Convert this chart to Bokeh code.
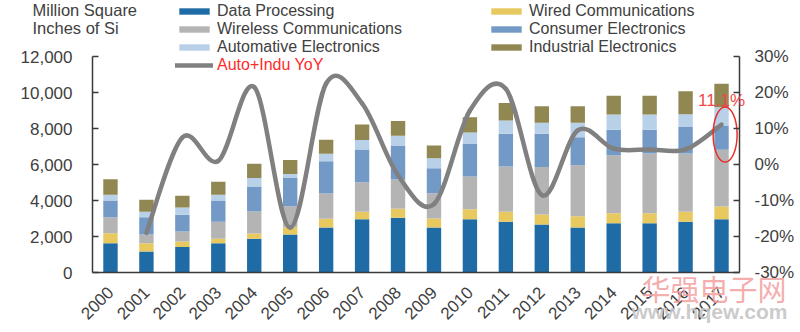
from math import pi
from bokeh.plotting import figure
from bokeh.models import (Range1d, LinearAxis, FixedTicker, NumeralTickFormatter,
                          PrintfTickFormatter, Legend, LegendItem, Label, ColumnDataSource)
from bokeh.embed import file_html
from bokeh.resources import INLINE

# ---------------- data ----------------
years = [str(y) for y in range(2000, 2018)]
data_processing = [1630, 1170, 1410, 1630, 1870, 2110, 2500, 2960, 3040, 2500, 2960, 2820, 2670, 2500, 2740, 2740, 2820, 2960]
wired_comm      = [555, 460, 315, 240, 300, 405, 480, 410, 500, 500, 555, 555, 555, 630, 555, 555, 555, 705]
wireless_comm   = [890, 480, 555, 945, 1220, 1165, 1410, 1650, 1630, 1405, 1815, 2520, 2630, 2835, 3225, 3315, 3240, 3150]
consumer_elec   = [925, 965, 925, 1185, 1390, 1575, 1795, 1815, 1890, 1390, 1815, 1815, 1850, 1555, 1405, 1315, 1465, 1350]
auto_elec       = [315, 295, 405, 315, 465, 220, 410, 520, 535, 555, 630, 740, 610, 795, 850, 850, 705, 1020]
industrial_elec = [870, 665, 650, 720, 795, 780, 775, 870, 815, 705, 850, 965, 925, 925, 1040, 1040, 1280, 1295]

yoy_years = years[1:]
auto_indu_yoy = [-19.0, 7.5, 1.0, 21.5, -17.5, 22.5, 17.0, -3.0, -11.0, 15.0, 21.0, -8.5, 9.5, 4.4, 4.2, 4.2, 11.1]

series_names = ["Data Processing", "Wired Communications", "Wireless Communications",
                "Consumer Electronics", "Automative Electronics", "Industrial Electronics"]
line_name = "Auto+Indu YoY"
left_ticks = [0, 2000, 4000, 6000, 8000, 10000, 12000]
right_ticks = [-30, -20, -10, 0, 10, 20, 30]
y_title = ["Million Square", "Inches of Si"]

# ---------------- layout (pixels) ----------------
W, H = 800, 332
PL, PR, PT, PB = 92, 739, 56, 272          # plotting area edges on the canvas
ncat = len(years)
cw = (PR - PL) / ncat                       # px per category
ys_l = (PB - PT) / (left_ticks[-1] - left_ticks[0])
ys_r = (PB - PT) / (right_ticks[-1] - right_ticks[0])

FONT = "Liberation Sans"
TXT = "#404040"
AXIS = "#3a3a3a"
colors = ["#1f6ba5", "#e8c95f", "#b4b4b4", "#7399c6", "#b9d0e9", "#908752"]
LINE = "#808080"
RED = "#ff2a2a"

x_range = Range1d(-0.5 - PL / cw, ncat - 0.5 + (W - PR) / cw)
y_range = Range1d(left_ticks[0] - (H - PB) / ys_l, left_ticks[-1] + PT / ys_l)
p = figure(width=W, height=H, output_backend="svg", toolbar_location=None, tools="",
           x_range=x_range, y_range=y_range, min_border=0)
p.outline_line_color = None
p.xgrid.visible = False
p.ygrid.visible = False
p.extra_y_ranges = {"yoy": Range1d(right_ticks[0] - (H - PB) / ys_r, right_ticks[-1] + PT / ys_r)}

xs = list(range(ncat))
src = ColumnDataSource(dict(x=xs, dp=data_processing, wired=wired_comm, wireless=wireless_comm,
                            consumer=consumer_elec, auto=auto_elec, ind=industrial_elec))
keys = ["dp", "wired", "wireless", "consumer", "auto", "ind"]
bars = p.vbar_stack(keys, x="x", width=0.4, fill_color=colors, line_color=None, source=src)

# smooth YoY line (Catmull-Rom -> cubic Bezier control points from the data points)
lx = [years.index(y) for y in yoy_years]
ly = auto_indu_yoy
n = len(lx)
seg = dict(x0=[], y0=[], x1=[], y1=[], cx0=[], cy0=[], cx1=[], cy1=[])
for i in range(n - 1):
    a, b = max(i - 1, 0), min(i + 2, n - 1)
    seg["x0"].append(lx[i]); seg["y0"].append(ly[i])
    seg["x1"].append(lx[i + 1]); seg["y1"].append(ly[i + 1])
    seg["cx0"].append(lx[i] + (lx[i + 1] - lx[a]) / 6); seg["cy0"].append(ly[i] + (ly[i + 1] - ly[a]) / 6)
    seg["cx1"].append(lx[i + 1] - (lx[b] - lx[i]) / 6); seg["cy1"].append(ly[i + 1] - (ly[b] - ly[i]) / 6)
line_r = p.bezier(x0="x0", y0="y0", x1="x1", y1="y1", cx0="cx0", cy0="cy0", cx1="cx1", cy1="cy1",
                  source=ColumnDataSource(seg), line_color=LINE, line_width=4.5, line_cap="round",
                  y_range_name="yoy")

# highlight of the last value
p.ellipse(x=[lx[-1] + 0.1], y=[ly[-1] - 2.8], width=24, height=55, width_units="screen",
          height_units="screen", fill_color=None, line_color="#e8302e", line_width=1.5,
          y_range_name="yoy")
p.add_layout(Label(x=lx[-1], y=ly[-1], y_range_name="yoy", text=f"{ly[-1]:.1f}%",
                   text_align="center", text_baseline="middle", y_offset=24,
                   text_font=FONT, text_font_size="17px", text_color="#f04848"))

# axes (pinned to the plotting area)
ax = p.yaxis[0]
ax.ticker = FixedTicker(ticks=left_ticks)
ax.formatter = NumeralTickFormatter(format="0,0")
ax.fixed_location = -0.5
ax.bounds = (left_ticks[0], left_ticks[-1])
ax2 = LinearAxis(y_range_name="yoy", ticker=FixedTicker(ticks=right_ticks),
                 formatter=PrintfTickFormatter(format="%d%%"),
                 fixed_location=ncat - 0.5, bounds=(right_ticks[0], right_ticks[-1]))
p.add_layout(ax2, "right")
for a_, st in ((ax, 20), (ax2, 15)):
    a_.major_tick_in = 6
    a_.major_tick_out = 0
    a_.minor_tick_line_color = None
    a_.major_label_standoff = st
xa = p.xaxis[0]
xa.ticker = FixedTicker(ticks=xs)
xa.major_label_overrides = {i: y for i, y in zip(xs, years)}
xa.major_label_orientation = pi / 4
xa.minor_tick_line_color = None
xa.major_label_standoff = 11
xa.fixed_location = left_ticks[0]
xa.bounds = (-0.5, ncat - 0.5)
for a_ in (ax, ax2, xa):
    a_.axis_line_color = AXIS
    a_.axis_line_width = 1.5
    a_.major_tick_line_color = AXIS if a_ is not xa else None
    a_.major_tick_line_width = 1.5
    a_.major_label_text_font = FONT
    a_.major_label_text_font_size = "17px"
    a_.major_label_text_color = TXT

# legends (screen positions measured from the bottom-left of the canvas)
def mk_legend(items, left, top, color, step=18):
    h = step * len(items)
    lg = Legend(items=items, location=(left, H - top - h), orientation="vertical",
                glyph_width=38, glyph_height=8, label_standoff=4, label_height=step,
                spacing=0, padding=0, margin=0, border_line_color=None,
                background_fill_alpha=0,
                label_text_font=FONT, label_text_font_size="16px", label_text_color=color)
    p.add_layout(lg)
    return lg

mk_legend([LegendItem(label=series_names[i], renderers=[bars[i]]) for i in (0, 2, 4)], 175, 1.5, TXT)
mk_legend([LegendItem(label=series_names[i], renderers=[bars[i]]) for i in (1, 3, 5)], 487, 1.5, TXT)
mk_legend([LegendItem(label=line_name, renderers=[line_r])], 175, 56, RED)

# axis title
for k, t in enumerate(y_title):
    p.add_layout(Label(x=32, y=H - 9 - 18.5 * k, x_units="screen", y_units="screen", text=t,
                       text_font=FONT, text_font_size="16.5px", text_color=TXT,
                       text_baseline="middle"))

# watermark
p.add_layout(Label(x=641, y=H - 287, x_units="screen", y_units="screen", text="华强电子网",
                   text_font="Noto Sans CJK SC", text_font_size="29px", text_color="#f2a0a0",
                   text_alpha=0.85, text_baseline="middle"))
p.add_layout(Label(x=631, y=H - 311, x_units="screen", y_units="screen", text="www.hqew.com",
                   text_font=FONT, text_font_size="21px", text_font_style="bold",
                   text_color="#c4c4c4", text_alpha=0.9, text_baseline="middle"))

open("out.html", "w").write(file_html(p, INLINE))
